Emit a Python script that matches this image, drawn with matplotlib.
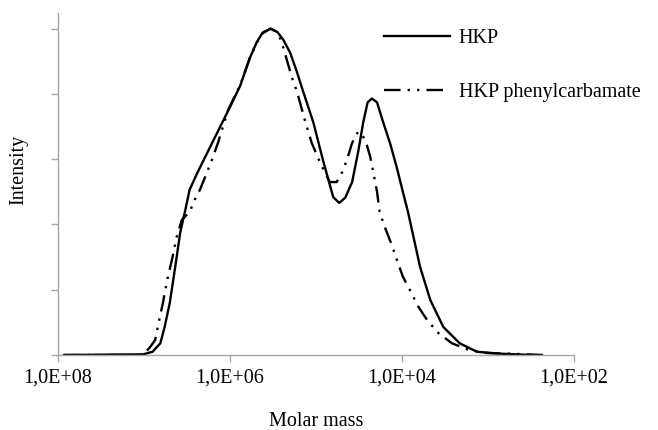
import numpy as np
import matplotlib
matplotlib.use("Agg")
import matplotlib.pyplot as plt
from matplotlib.ticker import FixedLocator, NullFormatter

plt.rcParams['font.family'] = ['Liberation Serif', 'DejaVu Serif']

# log10(molar mass) and intensity
hkp_logm = [7.93, 7.01, 6.90, 6.81, 6.76, 6.70, 6.66, 6.62, 6.58, 6.52, 6.47, 6.38,
            6.23, 6.00, 5.88, 5.77, 5.69, 5.62, 5.53, 5.45, 5.38, 5.30, 5.22, 5.16,
            5.03, 4.92, 4.80, 4.73, 4.66, 4.58, 4.51, 4.45, 4.40, 4.35, 4.29,
            4.22, 4.14, 4.06, 3.99, 3.93, 3.79, 3.67, 3.52, 3.33, 3.13, 2.86, 2.48]
hkp_int = [0.00, 0.01, 0.05, 0.18, 0.43, 0.80, 1.15, 1.50, 1.87, 2.22, 2.53, 2.79,
           3.19, 3.80, 4.13, 4.55, 4.79, 4.94, 5.00, 4.95, 4.83, 4.63, 4.33, 4.08,
           3.56, 2.99, 2.42, 2.33, 2.41, 2.65, 3.11, 3.57, 3.87, 3.93, 3.87,
           3.57, 3.25, 2.87, 2.50, 2.19, 1.35, 0.84, 0.43, 0.18, 0.05, 0.02, 0.00]

phc_logm = [7.93, 7.01, 6.93, 6.87, 6.84, 6.78, 6.73, 6.67, 6.62, 6.56, 6.47, 6.41,
            6.35, 6.27, 6.21, 6.14, 6.02, 5.88, 5.77, 5.69, 5.62, 5.53, 5.45, 5.42,
            5.38, 5.33, 5.28, 5.22, 5.13, 5.05, 4.95, 4.84, 4.76, 4.70, 4.64, 4.58,
            4.52, 4.49, 4.45, 4.41, 4.37, 4.35, 4.29, 4.26, 4.20, 4.12, 4.06, 3.99,
            3.91, 3.81, 3.71, 3.58, 3.42, 3.23, 3.01, 2.74, 2.36]
phc_int = [0.00, 0.00, 0.12, 0.23, 0.43, 0.80, 1.15, 1.49, 1.81, 2.07, 2.19, 2.38,
           2.53, 2.79, 2.99, 3.25, 3.76, 4.14, 4.55, 4.78, 4.93, 5.00, 4.95, 4.86,
           4.71, 4.48, 4.25, 4.03, 3.60, 3.25, 2.94, 2.65, 2.65, 2.79, 2.99, 3.25,
           3.40, 3.42, 3.34, 3.22, 3.04, 2.91, 2.50, 2.19, 1.96, 1.69, 1.46, 1.20,
           1.00, 0.74, 0.54, 0.34, 0.18, 0.08, 0.03, 0.02, 0.00]

x_ticks = [1e8, 1e6, 1e4, 1e2]
x_labels = ["1,0E+08", "1,0E+06", "1,0E+04", "1,0E+02"]
y_ticks = [0, 1, 2, 3, 4, 5]

fs = 14.5

fig = plt.figure(figsize=(6.58, 4.30), dpi=100)
ax = fig.add_axes([58 / 658, 75 / 430, 516 / 658, 342 / 430])

ax.plot(10 ** np.array(hkp_logm), hkp_int, color="black", lw=1.7, label="HKP")
ax.plot(10 ** np.array(phc_logm), phc_int, color="black", lw=1.7,
        linestyle=(0, (7, 3, 1, 3, 1, 3)), label="HKP phenylcarbamate")

ax.set_xscale("log")
ax.set_xlim(1e8, 1e2)
ax.set_ylim(0, 5.24)
ax.xaxis.set_major_locator(FixedLocator(x_ticks))
ax.xaxis.set_minor_locator(FixedLocator([]))
ax.set_xticks(x_ticks)
ax.set_xticklabels(x_labels, fontsize=fs)
ax.set_yticks(y_ticks)
ax.yaxis.set_major_formatter(NullFormatter())

for s in ["top", "right"]:
    ax.spines[s].set_visible(False)
for s in ["left", "bottom"]:
    ax.spines[s].set_color("#a6a6a6")
    ax.spines[s].set_linewidth(1.0)
ax.tick_params(axis="both", color="#a6a6a6", length=5, width=1.0, pad=5)

ax.set_xlabel("Molar mass", fontsize=fs, labelpad=17)
ax.set_ylabel("Intensity", fontsize=fs)
ax.yaxis.set_label_coords(-30 / 516, 0.54)

ax.legend(loc="upper left", bbox_to_anchor=(384 / 658, 1 - 29 / 430),
          bbox_transform=fig.transFigure, frameon=False, fontsize=fs,
          handlelength=3.3, handletextpad=0.4, labelspacing=1.75,
          borderpad=0, borderaxespad=0)

plt.savefig("out.png", dpi=100)
